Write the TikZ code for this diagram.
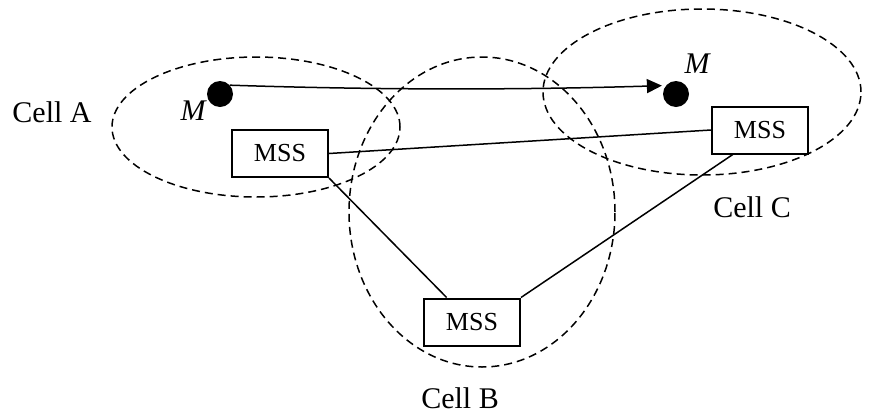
\documentclass[tikz,border=0pt]{standalone}
\usepackage{fontspec}
\setmainfont{Liberation Serif}
\usetikzlibrary{arrows.meta}

\tikzset{
  cell/.style={draw, dashed, dash pattern=on 8pt off 5pt, line width=1.5pt},
  mss/.style={draw, line width=2pt, rectangle, inner sep=0pt,
              minimum width=96pt, minimum height=47pt,
              font=\fontsize{26}{30}\selectfont},
  host/.style={circle, fill=black, inner sep=0pt, minimum size=26pt},
  link/.style={line width=1.5pt},
  celllabel/.style={anchor=base, inner sep=0pt, font=\fontsize{30}{34}\selectfont},
  hostlabel/.style={anchor=base, inner sep=0pt, font=\fontsize{30}{34}\selectfont\itshape},
}

\begin{document}
\begin{tikzpicture}[x=1pt, y=1pt]
  \useasboundingbox (0,0) rectangle (871,-416);

  % cell coverage areas
  \draw[cell] (256,-127) ellipse [x radius=144pt, y radius=70pt];
  \draw[cell] (482,-212) ellipse [x radius=133pt, y radius=155pt];
  \draw[cell] (702,-92) ellipse [x radius=159pt, y radius=83pt];

  % base stations
  \node[mss] (mssA) at (280,-153.5) {MSS};
  \node[mss] (mssB) at (472,-322) {MSS};
  \node[mss] (mssC) at (760,-130) {MSS};

  % mobile host before and after moving
  \node[host] (mA) at (220,-94) {};
  \node[host] (mC) at (676,-94) {};
  \node[hostlabel] (lmA) at (193,-120) {M};
  \node[hostlabel] (lmC) at (697,-73) {M};

  % cell names
  \node[celllabel] (cA) at (52,-122) {Cell A};
  \node[celllabel] (cB) at (460,-408) {Cell B};
  \node[celllabel] (cC) at (752,-217) {Cell C};

  % wired network between the stations
  \draw[link] (mssA.east) -- (mssC.west);
  \draw[link] (mssA.south east) -- (mssB.136);
  \draw[link] (mssB.north east) -- (mssC.222);

  % movement of the host
  \draw[link, -{Triangle[length=15pt, width=14pt]}, shorten >=4pt]
    (mA.42) .. controls (375,-90) and (520,-90) .. (mC.140);
\end{tikzpicture}
\end{document}
